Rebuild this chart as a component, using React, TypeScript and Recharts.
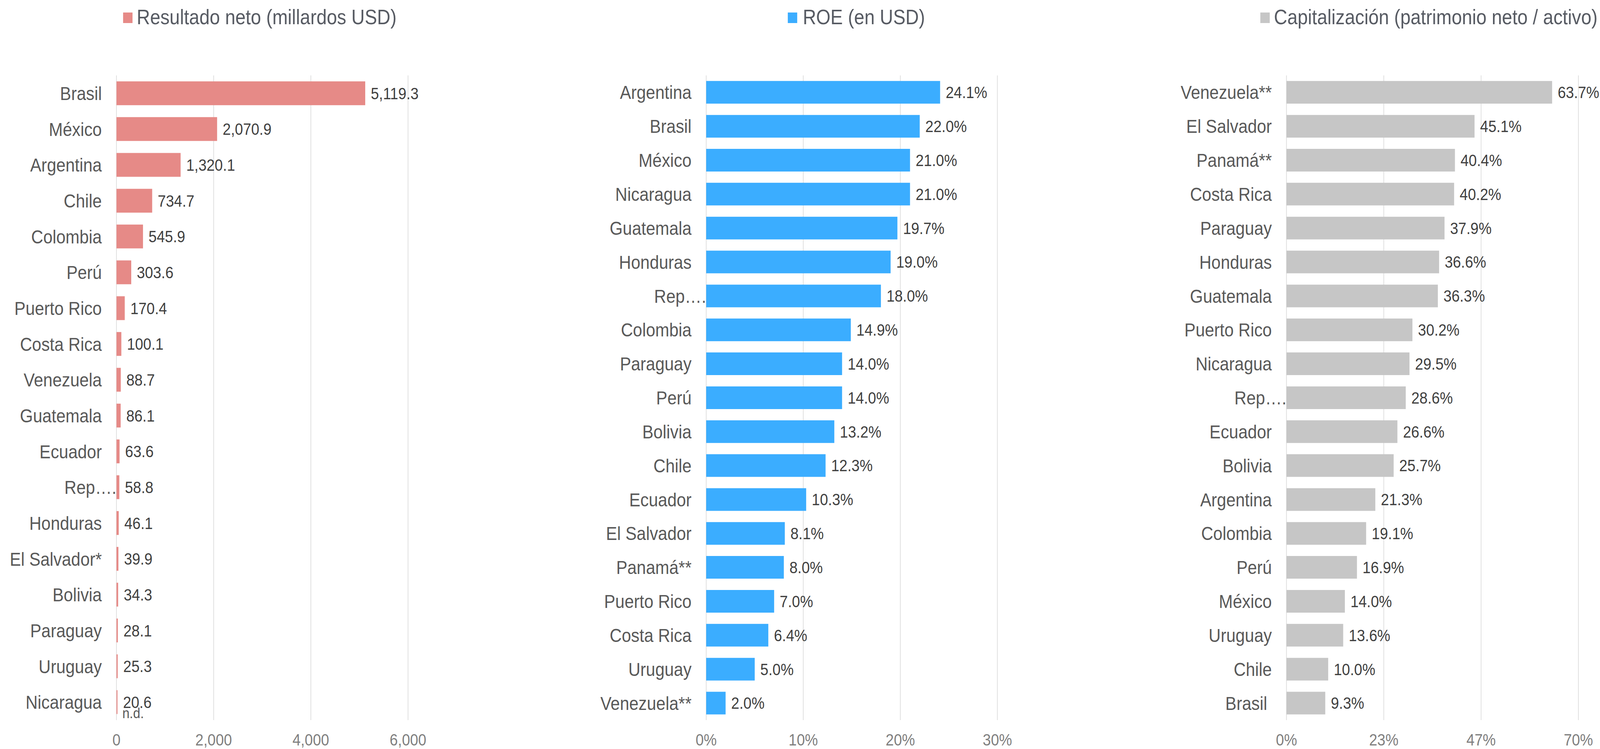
import { Bar, BarChart, CartesianGrid, LabelList, XAxis, YAxis } from "recharts";

// Resultado neto (millardos USD)
const resultadoPaises = [
  "Brasil", "México", "Argentina", "Chile", "Colombia", "Perú", "Puerto Rico", "Costa Rica", "Venezuela",
  "Guatemala", "Ecuador", "Rep….", "Honduras", "El Salvador*", "Bolivia", "Paraguay", "Uruguay", "Nicaragua",
];
const resultadoValores = [
  5119.3, 2070.9, 1320.1, 734.7, 545.9, 303.6, 170.4, 100.1, 88.7,
  86.1, 63.6, 58.8, 46.1, 39.9, 34.3, 28.1, 25.3, 20.6,
];
const resultadoNotas = ["", "", "", "", "", "", "", "", "", "", "", "", "", "", "", "", "", "n.d."];
const resultadoTicks = [0, 2000, 4000, 6000];

// ROE (en USD), %
const roePaises = [
  "Argentina", "Brasil", "México", "Nicaragua", "Guatemala", "Honduras", "Rep….", "Colombia", "Paraguay", "Perú",
  "Bolivia", "Chile", "Ecuador", "El Salvador", "Panamá**", "Puerto Rico", "Costa Rica", "Uruguay", "Venezuela**",
];
const roeValores = [24.1, 22.0, 21.0, 21.0, 19.7, 19.0, 18.0, 14.9, 14.0, 14.0, 13.2, 12.3, 10.3, 8.1, 8.0, 7.0, 6.4, 5.0, 2.0];
const roeTicks = [0, 10, 20, 30];

// Capitalización (patrimonio neto / activo), %
const capPaises = [
  "Venezuela**", "El Salvador", "Panamá**", "Costa Rica", "Paraguay", "Honduras", "Guatemala", "Puerto Rico", "Nicaragua",
  "Rep….", "Ecuador", "Bolivia", "Argentina", "Colombia", "Perú", "México", "Uruguay", "Chile", "Brasil\u00a0",
];
const capValores = [63.7, 45.1, 40.4, 40.2, 37.9, 36.6, 36.3, 30.2, 29.5, 28.6, 26.6, 25.7, 21.3, 19.1, 16.9, 14.0, 13.6, 10.0, 9.3];
const capTicks = [0, 23.333, 46.667, 70];

const FONT = "'Liberation Sans', Arial, sans-serif";
const W = 4588;
const H = 1917;

function CountryTick(props: any) {
  const { x, y, payload } = props;
  const label = String(payload.value);
  // truncated label runs up to the axis, like in the original
  const tx = label.startsWith("Rep") ? x + 42 : x;
  return (
    <text x={tx} y={y} dy="0.355em" textAnchor="end" fill="#595959" fontSize={48} fontFamily={FONT}>
      {label}
    </text>
  );
}

function ValueLabel(props: any) {
  const { x, y, width, height, value, index, fmt, notes } = props;
  const lx = x + width + 16;
  const cy = y + height / 2;
  const note = notes ? notes[index] : "";
  return (
    <g>
      <text x={lx} y={cy} dy="0.355em" fill="#404040" fontSize={42} fontFamily={FONT}>
        {fmt(value)}
      </text>
      {note ? (
        <text x={lx - 2} y={cy + 28} dy="0.355em" fill="#595959" fontSize={37} fontFamily={FONT}>
          {note}
        </text>
      ) : null}
    </g>
  );
}

function Panel({
  left,
  width,
  axisWidth,
  marginRight,
  names,
  values,
  notes,
  color,
  domain,
  ticks,
  tickFmt,
  valueFmt,
}: {
  left: number;
  width: number;
  axisWidth: number;
  marginRight: number;
  names: string[];
  values: number[];
  notes?: string[];
  color: string;
  domain: [number, number];
  ticks: number[];
  tickFmt: (v: number) => string;
  valueFmt: (v: number) => string;
}) {
  const rows = names.map((name, i) => ({ name, value: values[i] }));
  return (
    <div style={{ position: "absolute", left, top: 0 }}>
      <BarChart
        width={width}
        height={H}
        data={rows}
        layout="vertical"
        barCategoryGap="16.5%"
        margin={{ top: 193, right: marginRight, bottom: 0, left: 0 }}
      >
        <XAxis
          type="number"
          domain={domain}
          ticks={ticks}
          tickFormatter={tickFmt}
          tickLine={false}
          axisLine={false}
          tickSize={0}
          tickMargin={35}
          height={74}
          interval={0}
          tick={{ fill: "#7F7F7F", fontSize: 42, fontFamily: FONT }}
        />
        <YAxis
          type="category"
          dataKey="name"
          width={axisWidth}
          tickLine={false}
          axisLine={false}
          tickSize={0}
          tickMargin={42}
          interval={0}
          tick={<CountryTick />}
        />
        <Bar dataKey="value" fill={color} isAnimationActive={false}>
          <LabelList dataKey="value" content={<ValueLabel fmt={valueFmt} notes={notes} />} />
        </Bar>
        <CartesianGrid horizontal={false} stroke="#000000" strokeOpacity={0.17} strokeWidth={1.6} />
      </BarChart>
    </div>
  );
}

function LegendItem({ square, text, color, label }: { square: number; text: number; color: string; label: string }) {
  return (
    <>
      <div style={{ position: "absolute", left: square, top: 32, width: 27, height: 27, background: color }} />
      <div
        style={{
          position: "absolute",
          left: text,
          top: 17,
          fontSize: 53,
          lineHeight: 1,
          fontFamily: FONT,
          color: "#575B63",
          whiteSpace: "nowrap",
        }}
      >
        {label}
      </div>
    </>
  );
}

const fmtMiles = (v: number) => v.toLocaleString("en-US", { minimumFractionDigits: 1, maximumFractionDigits: 1 });
const fmtPct1 = (v: number) => `${v.toFixed(1)}%`;

export default function App() {
  // the window can come out narrower than the 4588px design; squeeze horizontally to fit
  const sx = Math.min(1, window.innerWidth / W);
  return (
    <div
      style={{
        position: "absolute",
        left: 0,
        top: 0,
        width: W,
        height: H,
        background: "#ffffff",
        overflow: "hidden",
        transform: `scale(${sx}, 1)`,
        transformOrigin: "0 0",
      }}
    >
      <Panel
        left={0}
        width={1530}
        axisWidth={334}
        marginRight={360}
        names={resultadoPaises}
        values={resultadoValores}
        notes={resultadoNotas}
        color="#E68A87"
        domain={[0, 6000]}
        ticks={resultadoTicks}
        tickFmt={(v) => v.toLocaleString("en-US")}
        valueFmt={fmtMiles}
      />
      <Panel
        left={1530}
        width={1530}
        axisWidth={495}
        marginRight={200}
        names={roePaises}
        values={roeValores}
        color="#3BADFF"
        domain={[0, 30]}
        ticks={roeTicks}
        tickFmt={(v) => `${v}%`}
        valueFmt={fmtPct1}
      />
      <Panel
        left={3060}
        width={1528}
        axisWidth={629}
        marginRight={62}
        names={capPaises}
        values={capValores}
        color="#C6C6C6"
        domain={[0, 70]}
        ticks={capTicks}
        tickFmt={(v) => `${Math.round(v)}%`}
        valueFmt={fmtPct1}
      />
      <LegendItem square={353} text={392} color="#E68A87" label="Resultado neto (millardos USD)" />
      <LegendItem square={2259} text={2302} color="#3BADFF" label="ROE (en USD)" />
      <LegendItem square={3614} text={3653} color="#C6C6C6" label="Capitalización (patrimonio neto / activo)" />
    </div>
  );
}
